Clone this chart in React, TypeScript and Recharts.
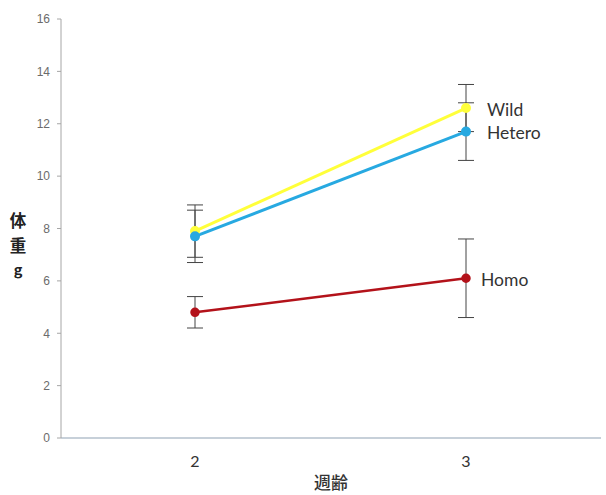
import React from "react";
import { LineChart, Line, XAxis, YAxis, ErrorBar, LabelList, Label } from "recharts";

// 週齢ごとの体重 (平均 ± 誤差)
const weeks = ["2", "3"];
const wild = [7.9, 12.6];
const wildErr = [1.0, 0.9];
const hetero = [7.7, 11.7];
const heteroErr = [1.0, 1.1];
const homo = [4.8, 6.1];
const homoErr = [0.6, 1.5];
const yTicks = [0, 2, 4, 6, 8, 10, 12, 14, 16];

const data = weeks.map((w, i) => ({
  week: w,
  wild: wild[i],
  wildErr: wildErr[i],
  hetero: hetero[i],
  heteroErr: heteroErr[i],
  homo: homo[i],
  homoErr: homoErr[i],
}));

const LABEL_FONT = "Lato, 'Open Sans', sans-serif";

// 最後の点の右側にだけ系列名を出す
const endLabel = (name: string, dx: number) => (props: any) => {
  if (props.index !== weeks.length - 1) return null;
  return (
    <text
      x={props.x + dx}
      y={props.y}
      dy="0.45em"
      fontSize={17.5}
      fontFamily={LABEL_FONT}
      fill="#333"
    >
      {name}
    </text>
  );
};

// 縦書きの軸タイトル
const YTitle = () => {
  const cx = 18;
  return (
    <text
      x={cx}
      y={227}
      fontFamily="'Noto Sans CJK JP', sans-serif"
      fill="#222"
      textAnchor="middle"
      fontWeight={700}
      fontSize={16.5}
    >
      <tspan x={cx}>体</tspan>
      <tspan x={cx} dy={24.5}>重</tspan>
      <tspan x={cx} dy={23} fontSize={14.5}>g</tspan>
    </text>
  );
};

export default function App() {
  return (
    <div style={{ position: "absolute", left: 0, top: 0, background: "#fff" }}>
      <LineChart
        width={606}
        height={495}
        data={data}
        margin={{ top: 19, right: 5, bottom: 0, left: 0 }}
      >
        <XAxis
          dataKey="week"
          height={57}
          stroke="#8fa1b3"
          tickLine={false}
          tickMargin={12}
          padding={{ left: 134, right: 135 }}
          tick={{ fontSize: 16, fill: "#333", fontFamily: LABEL_FONT }}
        >
          <Label
            value="週齢"
            position="insideBottom"
            offset={6}
            fontSize={17}
            fontWeight={500}
            fill="#333"
            fontFamily="'Noto Sans CJK JP', sans-serif"
          />
        </XAxis>
        <YAxis
          width={61}
          domain={[0, 16]}
          ticks={yTicks}
          stroke="#a6a6a6"
          tickSize={4}
          tickMargin={7}
          tick={{ fontSize: 12, fill: "#6b6b6b", fontFamily: "'Liberation Sans', Arial, sans-serif" }}
        >
          <Label content={YTitle} />
        </YAxis>
        <Line
          dataKey="wild"
          stroke="#ffff3a"
          strokeWidth={3}
          dot={{ r: 3.5, fill: "#ffff3a", stroke: "#ffff3a" }}
          isAnimationActive={false}
        >
          <ErrorBar dataKey="wildErr" width={8} stroke="#444" strokeWidth={1} direction="y" />
          <LabelList content={endLabel("Wild", 21)} />
        </Line>
        <Line
          dataKey="hetero"
          stroke="#27a9e1"
          strokeWidth={3}
          dot={{ r: 3.5, fill: "#27a9e1", stroke: "#27a9e1" }}
          isAnimationActive={false}
        >
          <ErrorBar dataKey="heteroErr" width={8} stroke="#444" strokeWidth={1} direction="y" />
          <LabelList content={endLabel("Hetero", 21)} />
        </Line>
        <Line
          dataKey="homo"
          stroke="#b3121a"
          strokeWidth={2.5}
          dot={{ r: 3.5, fill: "#b3121a", stroke: "#b3121a" }}
          isAnimationActive={false}
        >
          <ErrorBar dataKey="homoErr" width={8} stroke="#444" strokeWidth={1} direction="y" />
          <LabelList content={endLabel("Homo", 15)} />
        </Line>
      </LineChart>
    </div>
  );
}
